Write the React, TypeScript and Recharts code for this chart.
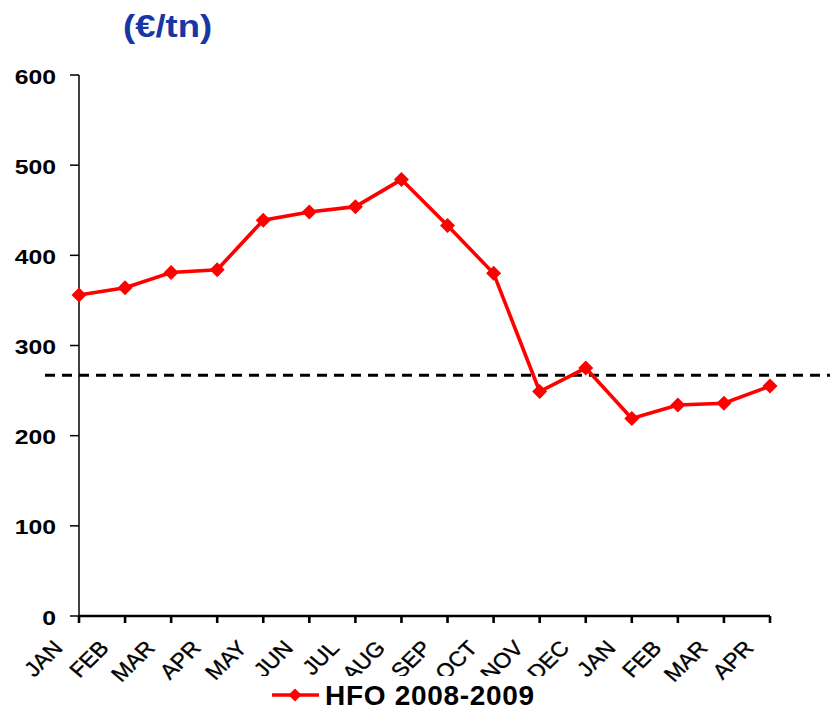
import React from "react";
import {
  LineChart,
  Line,
  XAxis,
  YAxis,
  ReferenceLine,
  Legend,
} from "recharts";

const MONTHS = [
  "JAN", "FEB", "MAR", "APR", "MAY", "JUN", "JUL", "AUG",
  "SEP", "OCT", "NOV", "DEC", "JAN", "FEB", "MAR", "APR",
];
const HFO_PRICES = [356, 364, 381, 384, 439, 448, 454, 484, 433, 380, 249, 275, 219, 234, 236, 255];
const Y_TICKS = [0, 100, 200, 300, 400, 500, 600];
const AVERAGE_LEVEL = 267;
const SERIES_NAME = "HFO 2008-2009";

const FONT = '"Liberation Sans", Arial, sans-serif';
const RED = "#ff0000";

// months repeat (2008 → 2009), so key the axis on the position
const data = MONTHS.map((m, i) => ({ idx: i, month: m, hfo: HFO_PRICES[i] }));

function Diamond(props: any) {
  const { cx, cy } = props;
  if (cx == null || cy == null) return null;
  return (
    <path
      d={`M${cx},${cy - 7.5} L${cx + 7.5},${cy} L${cx},${cy + 7.5} L${cx - 7.5},${cy} Z`}
      fill={RED}
    />
  );
}

// rotated labels, slightly stretched sideways like the source image
function MonthTick(props: any) {
  const { x, y, payload } = props;
  return (
    <text
      transform={`translate(${x - 15},${y + 24}) scale(1.1,1) rotate(-47)`}
      textAnchor="end"
      fontFamily={FONT}
      fontSize={21}
      fill="#000"
      stroke="#000"
      strokeWidth={0.35}
    >
      {MONTHS[payload.value]}
    </text>
  );
}

function ValueTick(props: any) {
  const { x, y, payload } = props;
  return (
    <text
      transform={`translate(${x},${y + 8.5}) scale(1.18,1)`}
      textAnchor="end"
      fontFamily={FONT}
      fontSize={21}
      fontWeight="bold"
      fill="#000"
    >
      {payload.value}
    </text>
  );
}

function DashedLevel(props: any) {
  const { x1, x2, y1 } = props;
  return (
    <line
      x1={x1 - 34}
      x2={x2 + 60}
      y1={y1}
      y2={y1}
      stroke="#000"
      strokeWidth={2.8}
      strokeDasharray="10 7"
    />
  );
}

// the legend box is opaque and hides the lower ends of the month labels behind it
function LegendBox() {
  return (
    <svg width={295} height={32} style={{ display: "block", background: "#fff" }}>
      <line x1={17} x2={64} y1={19} y2={19} stroke={RED} strokeWidth={3.5} />
      <path d="M40,12.5 L46.5,19 L40,25.5 L33.5,19 Z" fill={RED} />
      <text
        x={70}
        y={29}
        fontFamily={FONT}
        fontSize={28}
        fontWeight="bold"
        letterSpacing={0.7}
        fill="#000"
      >
        {SERIES_NAME}
      </text>
    </svg>
  );
}

export default function App() {
  return (
    <div
      style={{
        position: "absolute",
        left: 0,
        top: 0,
        width: 830,
        height: 708,
        background: "#fff",
        overflow: "hidden",
      }}
    >
      <div
        style={{
          position: "absolute",
          left: 123,
          top: 10,
          fontFamily: FONT,
          fontSize: 32,
          fontWeight: "bold",
          lineHeight: 1,
          color: "#1737a6",
          transform: "scaleX(1.14)",
          transformOrigin: "left top",
          whiteSpace: "nowrap",
        }}
      >
        (€/tn)
      </div>
      <LineChart
        width={830}
        height={708}
        data={data}
        margin={{ top: 75, right: 60, left: 0, bottom: 0 }}
      >
        <XAxis
          dataKey="idx"
          type="category"
          padding={{ left: 0, right: 0 }}
          interval={0}
          height={92}
          axisLine={{ stroke: "#000", strokeWidth: 2.6 }}
          tickLine={{ stroke: "#000", strokeWidth: 2.6 }}
          tickSize={7}
          tick={<MonthTick />}
        />
        <YAxis
          type="number"
          domain={[0, 600]}
          ticks={Y_TICKS}
          width={79}
          interval={0}
          axisLine={{ stroke: "#000", strokeWidth: 1.5 }}
          tickLine={{ stroke: "#000", strokeWidth: 1.5 }}
          tickSize={9}
          tickMargin={14}
          tick={<ValueTick />}
        />
        <ReferenceLine
          y={AVERAGE_LEVEL}
          ifOverflow="visible"
          shape={<DashedLevel />}
        />
        <Legend
          layout="horizontal"
          verticalAlign="middle"
          align="center"
          wrapperStyle={{ top: 676, left: 255, width: 295, height: 32 }}
          content={() => <LegendBox />}
        />
        <Line
          type="linear"
          dataKey="hfo"
          name={SERIES_NAME}
          stroke={RED}
          strokeWidth={3.6}
          dot={<Diamond />}
          activeDot={false}
          isAnimationActive={false}
        />
      </LineChart>
    </div>
  );
}
